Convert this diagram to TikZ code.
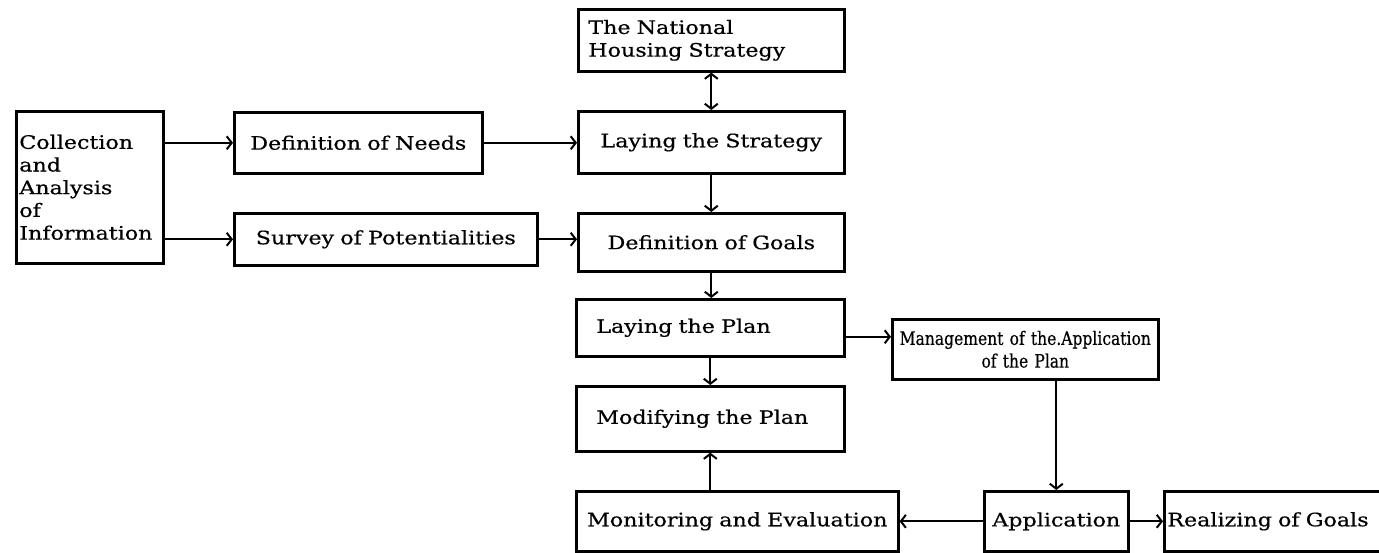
\documentclass[tikz,border=0pt]{standalone}
\usepackage{fontspec}
\newfontfamily\stagefont{DejaVu Serif}[FakeStretch=1.2, FakeBold=0.5]
\newfontfamily\narrowfont{DejaVu Serif}[FakeStretch=0.84, FakeBold=0.5]
\usetikzlibrary{arrows.meta, positioning, calc}

\begin{document}
\begin{tikzpicture}[>={Straight Barb[length=5pt, width=13pt]}, x=1pt, y=-1pt,
    stagebox/.style={draw, line width=2.6pt, anchor=north west, inner ysep=2pt,
      font=\stagefont\fontsize{18.5}{22.7}\selectfont},
    flow/.style={->, line width=2pt}]
  \clip (0,0) rectangle (1379,552);
  \fill[white] (0,0) rectangle (1379,552);
  \node[stagebox, inner xsep=3pt, text width=141pt, minimum height=152pt, align=left] (info) at (15,110)
    {Collection\\and\\Analysis\\of\\Information};
  \node[stagebox, inner xsep=4pt, text width=240pt, minimum height=61pt, align=center] (needs) at (233,111) {Definition of Needs};
  \node[stagebox, inner xsep=4pt, text width=295pt, minimum height=52pt, align=center] (survey) at (233,212) {Survey of Potentialities};
  \node[stagebox, inner xsep=10pt, text width=246pt, minimum height=62pt, align=left] (natl) at (577,8)
    {The National\\Housing Strategy};
  \node[stagebox, inner xsep=4pt, text width=258pt, minimum height=62pt, align=center] (strategy) at (577,110) {Laying the Strategy};
  \node[stagebox, inner xsep=4pt, text width=258pt, minimum height=58pt, align=center] (goals) at (577,212) {Definition of Goals};
  \node[stagebox, inner xsep=20pt, text width=228pt, minimum height=57pt, align=left] (plan) at (575,298) {Laying the Plan};
  \node[stagebox, inner xsep=20pt, text width=228pt, minimum height=65pt, align=left] (modify) at (575,385) {Modifying the Plan};
  \node[stagebox, inner xsep=4pt, text width=314pt, minimum height=60pt, align=center] (monitor) at (575,490) {Monitoring and Evaluation};
  \node[stagebox, inner xsep=2pt, text width=262pt, minimum height=60pt, align=center,
    font=\narrowfont\fontsize{18.5}{22.7}\selectfont] (manage) at (891,318)
    {Management of the.Application\\of the Plan};
  \node[stagebox, inner xsep=2pt, text width=140pt, minimum height=60pt, align=center] (apply) at (983,490) {Application};
  \node[stagebox, inner xsep=3pt, text width=240pt, minimum height=60pt, align=left] (realize) at (1163,490) {Realizing of Goals};
  \coordinate (planout) at ($(plan.east)+(0,9)$);

  \draw[flow] (info.east |- needs.west) -- (needs.west);
  \draw[flow] (info.east |- survey.west) -- (survey.west);
  \draw[flow] (needs.east) -- (needs.east -| strategy.west);
  \draw[flow] (survey.east) -- (survey.east -| goals.west);
  \draw[flow, <->] (natl.south) -- (strategy.north);
  \draw[flow] (strategy.south) -- (goals.north);
  \draw[flow] (goals.south) -- (goals.south |- plan.north);
  \draw[flow] (plan.south) -- (modify.north);
  \draw[flow] (modify.south |- monitor.north) -- (modify.south);
  \draw[flow] (planout) -- (planout -| manage.west);
  \draw[flow] (apply.north |- manage.south) -- (apply.north);
  \draw[flow] (apply.west) -- (apply.west -| monitor.east);
  \draw[flow] (apply.east) -- (apply.east -| realize.west);
\end{tikzpicture}
\end{document}
